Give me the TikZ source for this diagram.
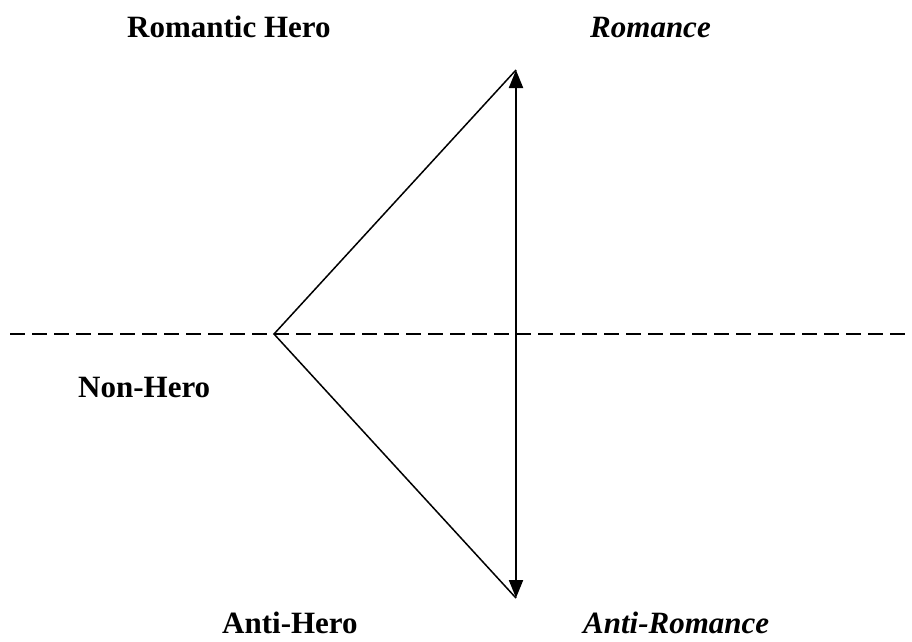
\documentclass[tikz,border=0pt]{standalone}
\usepackage{fontspec}
\setmainfont{Liberation Serif}
\usetikzlibrary{arrows.meta}
\begin{document}
\begin{tikzpicture}[x=1pt,y=-1pt,
  lbl/.style={font=\fontsize{31}{36}\selectfont\bfseries, anchor=base west, inner sep=0pt},
  ilbl/.style={font=\fontsize{31}{36}\selectfont\bfseries\itshape, anchor=base west, inner sep=0pt},
  axis/.style={line width=2pt, dash pattern=on 15pt off 7pt},
  side/.style={line width=1.5pt},
  span/.style={line width=2pt, {Triangle[length=18pt,width=14pt]}-{Triangle[length=18pt,width=14pt]}}]
\useasboundingbox (0,0) rectangle (912,641);
\fill[white] (0,0) rectangle (912,641);
\coordinate (apex) at (274,334);
\coordinate (top) at (516,70);
\coordinate (bot) at (516,598);
\coordinate (dl) at (10,334);
\coordinate (dr) at (905,334);
\draw[axis] (dl) -- (dr);
\draw[side] (top) -- (apex) -- (bot);
\draw[span] (top) -- (bot);
\node[lbl] (rh) at (127,37) {Romantic Hero};
\node[ilbl] (ro) at (590,37) {Romance};
\node[lbl] (nh) at (78,397) {Non-Hero};
\node[lbl] (ah) at (222,633) {Anti-Hero};
\node[ilbl] (ar) at (583,633) {Anti-Romance};
\end{tikzpicture}
\end{document}
